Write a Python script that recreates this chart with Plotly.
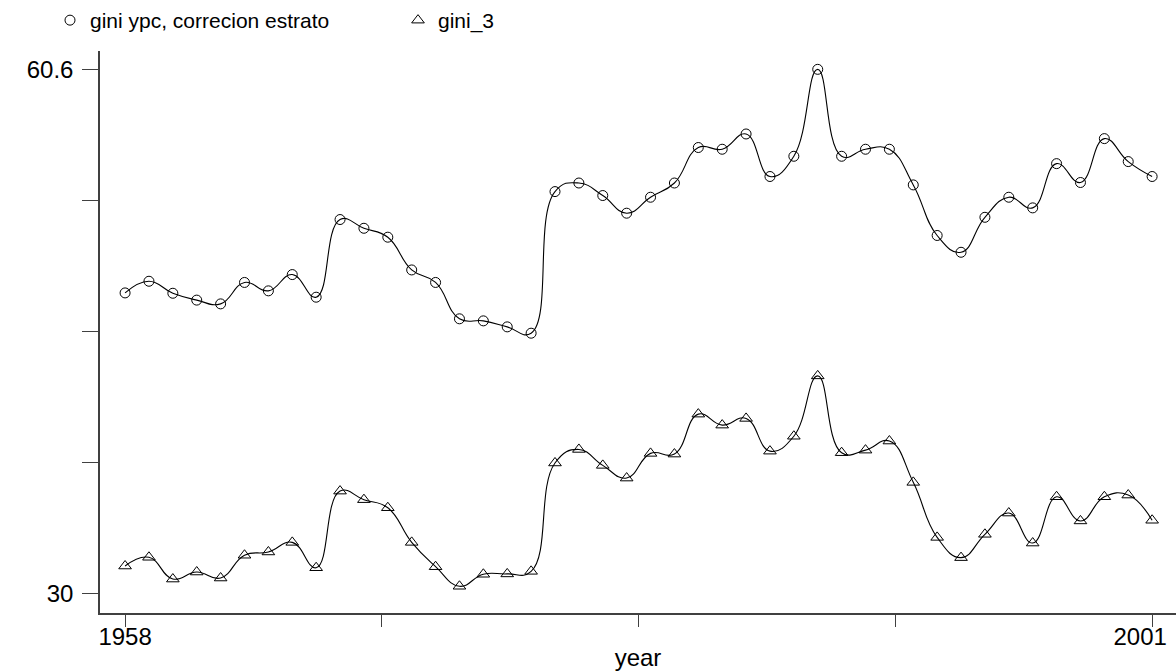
import plotly.graph_objects as go

years = list(range(1958, 2002))

gini_ypc = [47.56, 48.24, 47.54, 47.14, 46.92, 48.17, 47.68, 48.63, 47.31, 51.84,
            51.33, 50.81, 48.90, 48.17, 46.05, 45.93, 45.58, 45.21, 53.47, 53.97,
            53.24, 52.21, 53.14, 53.97, 56.04, 55.94, 56.83, 54.35, 55.53, 60.60,
            55.53, 55.94, 55.94, 53.86, 50.91, 49.93, 51.97, 53.14, 52.52, 55.10,
            54.00, 56.56, 55.22, 54.35]

gini_3 = [31.63, 32.14, 30.87, 31.28, 30.93, 32.26, 32.45, 33.01, 31.53, 36.00,
          35.50, 35.03, 33.01, 31.59, 30.45, 31.15, 31.17, 31.32, 37.64, 38.43,
          37.50, 36.76, 38.20, 38.16, 40.49, 39.85, 40.24, 38.33, 39.20, 42.72,
          38.24, 38.39, 38.92, 36.51, 33.30, 32.12, 33.48, 34.72, 32.97, 35.67,
          34.26, 35.67, 35.77, 34.30]

x_tickvals = [1958, 1968.75, 1979.5, 1990.25, 2001]
x_ticktext = ["1958", "", "", "", ""]
x_last_val = [2001]
x_last_text = ["2001"]
y_tickvals = [30, 37.65, 45.3, 52.95, 60.6]
y_ticktext = ["30", "", "", "", "60.6"]

series = [
    ("gini ypc, correcion estrato", gini_ypc, "circle-open", 10),
    ("gini_3", gini_3, "triangle-up-open", 11),
]

FONT = "Liberation Sans, Arial, sans-serif"
XRANGE = [1956.95, 2002.0]
fig = go.Figure()
for i, (name, vals, sym, sz) in enumerate(series):
    fig.add_trace(go.Scatter(
        x=years, y=vals, mode="lines", showlegend=False,
        xaxis="x2" if i == 0 else "x",
        line=dict(color="black", width=1.1, shape="spline", smoothing=1.3),
        hoverinfo="skip"))
    fig.add_trace(go.Scatter(
        x=years, y=vals, mode="markers", name=name,
        marker=dict(symbol=sym, size=sz, color="black",
                    line=dict(color="black", width=1))))

axis_common = dict(showgrid=False, zeroline=False, showline=True,
                   linecolor="#404040", linewidth=1.5, ticks="outside",
                   tickcolor="#404040", tickwidth=1.2,
                   tickfont=dict(family=FONT, size=24, color="black"))

fig.update_layout(
    width=1176, height=671,
    margin=dict(l=100, r=0, t=51, b=58, autoexpand=False),
    paper_bgcolor="white", plot_bgcolor="white",
    font=dict(family=FONT, size=22, color="black"),
    xaxis=dict(range=XRANGE, tickvals=x_tickvals, ticktext=x_ticktext,
               ticklen=12, ticklabelstandoff=-11,
               title=dict(text="year", standoff=9,
                          font=dict(family=FONT, size=24)),
               **axis_common),
    xaxis2=dict(range=XRANGE, overlaying="x", anchor="y", side="bottom",
                tickvals=x_last_val, ticktext=x_last_text,
                ticks="", showline=False, showgrid=False, zeroline=False,
                ticklabelstandoff=7, ticklabelshift=-12,
                ticklabeloverflow="allow",
                tickfont=dict(family=FONT, size=24, color="black")),
    yaxis=dict(range=[28.89, 61.67], tickvals=y_tickvals, ticktext=y_ticktext,
               ticklen=16, ticklabelstandoff=4, **axis_common),
    legend=dict(orientation="h", xref="container", yref="container",
                x=50 / 1176, y=1.0, xanchor="left", yanchor="top",
                entrywidth=303, entrywidthmode="pixels",
                font=dict(family=FONT, size=21, color="black"),
                bgcolor="rgba(0,0,0,0)"),
)

fig.write_html("out.html", config={"displayModeBar": False},
               post_script="document.body.style.margin='0';document.body.style.overflow='hidden';")
